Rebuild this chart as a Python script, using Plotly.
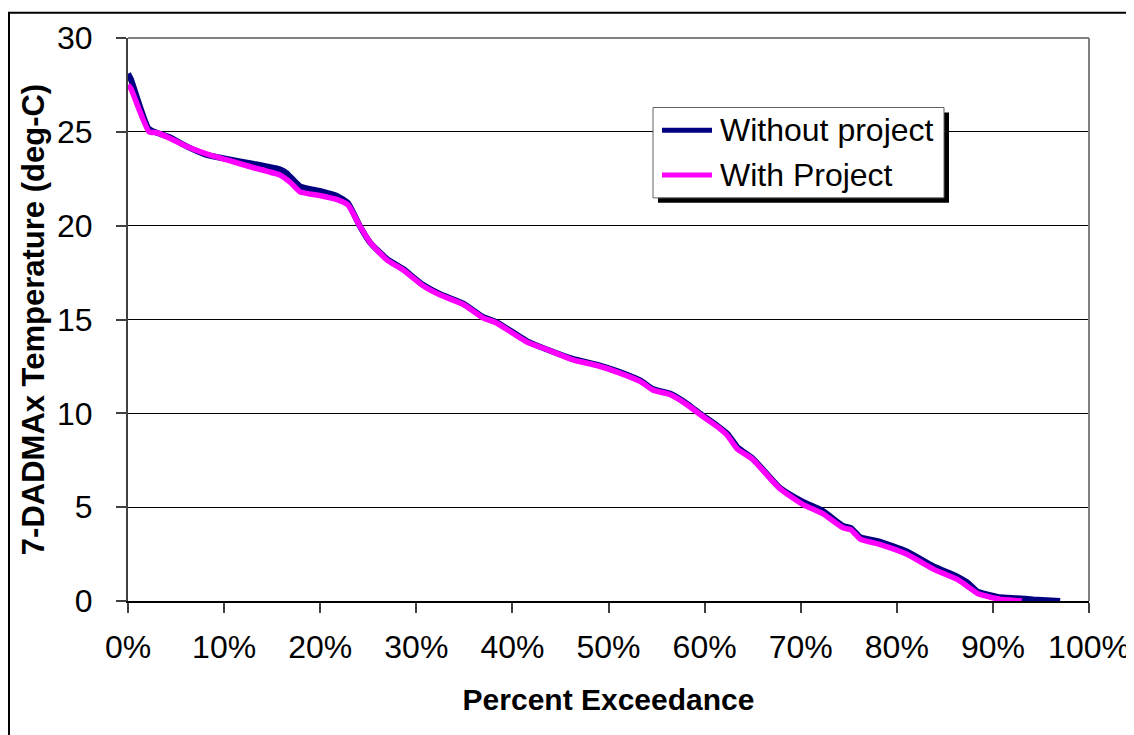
import plotly.graph_objects as go

# ---- data ----
pct_without = [0, 0.3, 2.1, 3, 4.4, 6, 8, 10.3, 13, 15.8, 16.5, 17.9, 20, 21.7, 22.9,
               24.1, 25.2, 27, 28.6, 30.7, 32.5, 34.9, 36.9, 38.4, 41.5, 43.6, 46.3,
               48.8, 50.9, 53.3, 54.6, 56.4, 58.2, 59.5, 61.3, 62.4, 63.4, 65, 67.8,
               70.2, 72.3, 74.4, 75.2, 76.2, 78.3, 81, 83.8, 86.3, 87.3, 88.4, 89.4,
               90.7, 92.5, 94.2, 97]
temp_without = [28.1, 27.8, 25.2, 24.95, 24.7, 24.25, 23.8, 23.55, 23.3, 23.0, 22.8,
                22.1, 21.85, 21.6, 21.2, 20.0, 19.1, 18.2, 17.7, 16.85, 16.35, 15.85,
                15.15, 14.85, 13.85, 13.4, 12.9, 12.6, 12.25, 11.75, 11.3, 11.05, 10.5,
                10.0, 9.35, 8.9, 8.2, 7.6, 6.05, 5.3, 4.8, 4.0, 3.9, 3.4, 3.15, 2.65,
                1.85, 1.3, 1.0, 0.5, 0.35, 0.2, 0.15, 0.08, 0.0]

pct_with = [0, 0.3, 2.2, 3, 4.4, 6, 8, 10.3, 13, 15.8, 16.9, 17.9, 20, 21.7, 22.9,
            24.1, 25.2, 27, 28.6, 30.7, 32.5, 34.9, 36.9, 38.4, 41.5, 43.6, 46.3,
            48.8, 50.9, 53.3, 54.6, 56.4, 58.2, 59.5, 61.3, 62.4, 63.4, 65, 67.8,
            70.2, 72.3, 74.4, 75.2, 76.2, 78.3, 81, 83.8, 86.3, 87.3, 88.4, 89.4,
            90.7, 92.5, 93]
temp_with = [27.5, 27.3, 25.0, 24.95, 24.65, 24.25, 23.85, 23.5, 23.1, 22.7, 22.3,
             21.8, 21.6, 21.4, 21.1, 20.0, 19.1, 18.15, 17.65, 16.8, 16.3, 15.8, 15.1,
             14.8, 13.8, 13.4, 12.85, 12.55, 12.2, 11.7, 11.25, 11.0, 10.45, 9.95,
             9.3, 8.8, 8.1, 7.55, 6.0, 5.15, 4.65, 3.9, 3.8, 3.3, 3.0, 2.5, 1.7, 1.15,
             0.8, 0.4, 0.25, 0.1, 0.02, 0.0]

x_ticks = [0, 10, 20, 30, 40, 50, 60, 70, 80, 90, 100]
x_tick_labels = [f"{v}%" for v in x_ticks]
y_ticks = [0, 5, 10, 15, 20, 25, 30]

series_names = ["Without project", "With Project"]
series_colors = ["#000080", "#FF00FF"]

# ---- layout geometry (figure pixels) ----
W, H = 1134, 735
L, R, T, B = 120, 53, 26, 142
PW, PH = W - L - R, H - T - B


def px(xp):
    return (xp - L) / PW


def py(yp):
    return (H - B - yp) / PH


FONT = "Liberation Sans, Arial, sans-serif"

fig = go.Figure()
fig.add_trace(go.Scatter(x=pct_without, y=temp_without, mode="lines",
                         name=series_names[0],
                         line=dict(color=series_colors[0], width=6, shape="spline", smoothing=0.5)))
fig.add_trace(go.Scatter(x=pct_with, y=temp_with, mode="lines",
                         name=series_names[1],
                         line=dict(color=series_colors[1], width=5.5, shape="spline", smoothing=0.5)))

shapes = []
# outer chart border (left/top visible)
shapes.append(dict(type="rect", xref="paper", yref="paper",
                   x0=px(1), x1=px(W + 50), y0=py(H + 50), y1=py(0.5),
                   line=dict(color="black", width=2), layer="below"))
# plot-area top / right grey border
shapes.append(dict(type="line", xref="paper", yref="paper", x0=0, x1=1, y0=1, y1=1,
                   line=dict(color="#808080", width=2)))
shapes.append(dict(type="line", xref="paper", yref="paper", x0=1, x1=1, y0=0, y1=1,
                   line=dict(color="#808080", width=2)))
# legend shadow + box
shapes.append(dict(type="rect", xref="paper", yref="paper",
                   x0=px(650), x1=px(941), y0=py(192), y1=py(101),
                   fillcolor="black", line=dict(width=0)))
shapes.append(dict(type="rect", xref="paper", yref="paper",
                   x0=px(645), x1=px(936), y0=py(187), y1=py(96),
                   fillcolor="white", line=dict(color="#606060", width=1)))
annotations = []
for i, (nm, col) in enumerate(zip(series_names, series_colors)):
    yy = 119 + 45 * i
    shapes.append(dict(type="line", xref="paper", yref="paper",
                       x0=px(654), x1=px(704), y0=py(yy), y1=py(yy),
                       line=dict(color=col, width=5)))
    annotations.append(dict(xref="paper", yref="paper", x=px(710), y=py(yy),
                            text=nm, showarrow=False, xanchor="left", yanchor="middle",
                            font=dict(family=FONT, size=32, color="black")))

fig.update_layout(
    width=W, height=H,
    margin=dict(l=L, r=R, t=T, b=B),
    paper_bgcolor="white", plot_bgcolor="white",
    showlegend=False,
    font=dict(family=FONT, color="black"),
    shapes=shapes, annotations=annotations,
    xaxis=dict(range=[0, 100], tickvals=x_ticks, ticktext=x_tick_labels,
               showgrid=False, zeroline=False, showline=True, linecolor="black",
               linewidth=2, ticks="outside", ticklen=10, tickwidth=1.5, tickcolor="#404040",
               ticklabelstandoff=7,
               tickfont=dict(family=FONT, size=32),
               title=dict(text="<b>Percent Exceedance</b>", standoff=25,
                          font=dict(family=FONT, size=30))),
    yaxis=dict(range=[0, 30], tickvals=y_ticks,
               showgrid=True, gridcolor="black", gridwidth=1,
               zeroline=False, showline=True, linecolor="#404040",
               linewidth=2, ticks="outside", ticklen=10, tickwidth=1.5, tickcolor="#404040",
               ticklabelstandoff=17,
               tickfont=dict(family=FONT, size=32),
               title=dict(text="<b>7-DADMAx Temperature (deg-C)</b>", standoff=3,
                          font=dict(family=FONT, size=31))),
)

fig.write_html("out.html")
